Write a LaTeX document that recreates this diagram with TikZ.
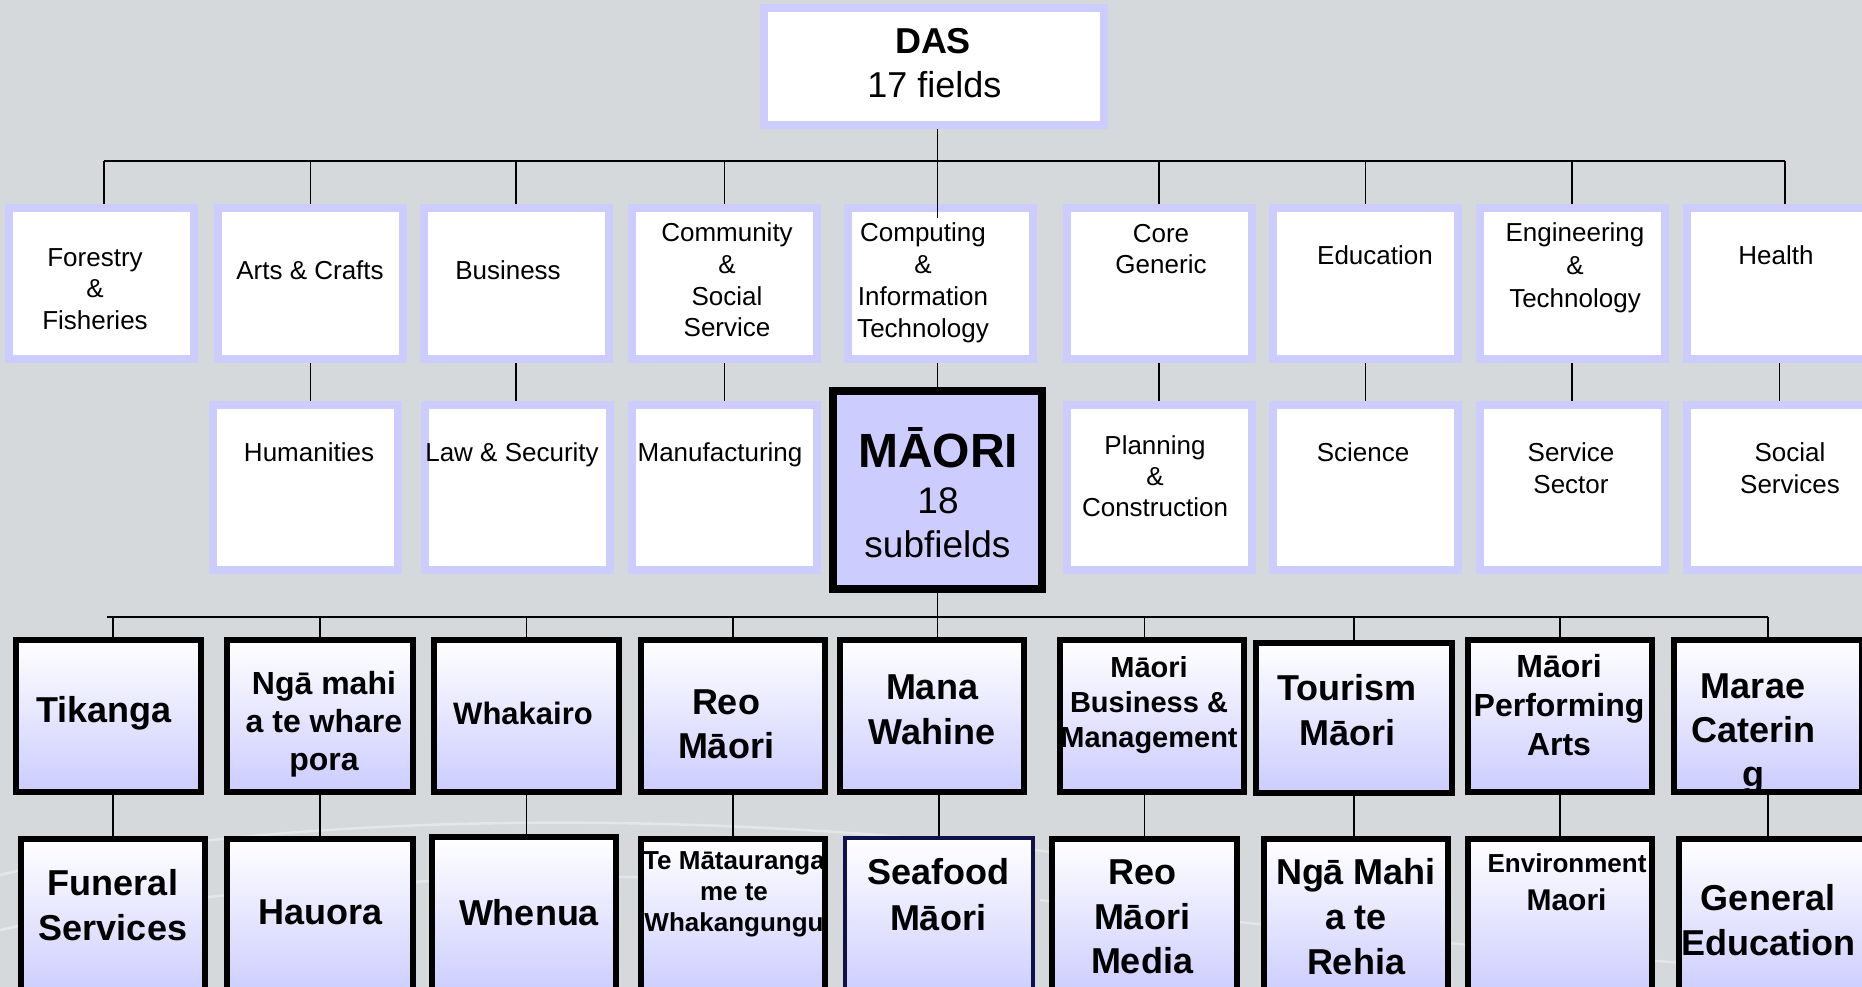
\documentclass[tikz,border=0pt]{standalone}
\usepackage{fontspec}
\setmainfont{Liberation Sans}
\usetikzlibrary{calc}
\definecolor{bg}{HTML}{D6D9DC}
\definecolor{lav}{HTML}{CCCCFF}
\definecolor{navyb}{HTML}{10104A}
\newcommand{\myfs}[2]{\fontsize{#1}{#2}\selectfont}
\begin{document}
\begin{tikzpicture}[x=1pt,y=-1pt,
  fieldbox/.style={draw=lav,line width=8pt,fill=white,inner sep=0pt,minimum width=185pt,minimum height=151pt},
  fieldboxb/.style={fieldbox,minimum height=165pt},
  subbox/.style={draw=black,line width=6pt,top color=white,bottom color=lav,inner sep=0pt,minimum height=152pt},
  subboxb/.style={subbox,minimum height=158pt},
  conn/.style={draw=black,line width=1.4pt},
  ftxt/.style={align=center,inner sep=0pt,yshift=-2pt,font=\myfs{26}{31.7}},
  btxt/.style={align=center,inner sep=0pt,yshift=-2.5pt,font=\bfseries\myfs{36}{45}},
  swoosh/.style={draw=white,opacity=0.35,line width=2.5pt}
]
\useasboundingbox (0,0) rectangle (1862,987);
\clip (0,0) rectangle (1862,987);
\fill[bg] (0,0) rectangle (1862,987);
% faint background swooshes
\draw[swoosh] (0,875) .. controls (250,815) and (700,800) .. (1150,865);
\draw[swoosh] (0,930) .. controls (200,885) and (500,870) .. (820,880);
\draw[swoosh] (1040,900) .. controls (1300,930) and (1600,960) .. (1862,975);

% DAS
\node[draw=lav,line width=8pt,fill=white,inner sep=0pt,minimum width=340pt,minimum height=117pt] (das) at (934,66.5) {};
\node[anchor=base,inner sep=0pt,font=\bfseries\myfs{36}{44}] (td1) at (933,54) {DAS};
\node[anchor=base,inner sep=0pt,font=\myfs{36}{44}] (td2) at (934.5,98) {17 fields};

% fields row 1
\node[fieldbox] (f1) at (101,283.5) {};
\node[fieldbox] (f2) at (310.5,283.5) {};
\node[fieldbox] (f3) at (516,283.5) {};
\node[fieldbox] (f4) at (724.5,283.5) {};
\node[fieldbox] (f5) at (940,283.5) {};
\node[fieldbox] (f6) at (1159,283.5) {};
\node[fieldbox] (f7) at (1365.5,283.5) {};
\node[fieldbox] (f8) at (1572,283.5) {};
\node[fieldbox] (f9) at (1779.5,283.5) {};

\node[ftxt] (tf1) at (95,287) {Forestry\\\&\\Fisheries};
\node[ftxt] (tf2) at (310,268.5) {Arts \& Crafts};
\node[ftxt] (tf3) at (508,268.5) {Business};
\node[ftxt] (tf4) at (727,278) {Community\\\&\\Social\\Service};
\node[ftxt] (tf5) at (923,280.8) {Computing\\\&\\Information\\Technology};
\node[ftxt] (tf6) at (1161,247) {Core\\Generic};
\node[ftxt] (tf7) at (1375,253.5) {Education};
\node[ftxt,font=\myfs{26}{33}] (tf8) at (1575,266) {Engineering\\\&\\Technology};
\node[ftxt] (tf9) at (1776,253.5) {Health};

% fields row 2
\node[fieldboxb] (g2) at (305,487.5) {};
\node[fieldboxb] (g3) at (517,487.5) {};
\node[fieldboxb] (g4) at (724.5,487.5) {};
\node[fieldboxb] (g6) at (1159,487.5) {};
\node[fieldboxb] (g7) at (1365.5,487.5) {};
\node[fieldboxb] (g8) at (1572,487.5) {};
\node[fieldboxb] (g9) at (1779.5,487.5) {};

\node[ftxt] (tg2) at (309,450.5) {Humanities};
\node[ftxt] (tg3) at (512,453) {Law \& Security};
\node[ftxt] (tg4) at (720,453) {Manufacturing};
\node[ftxt,font=\myfs{26}{31}] (tg6) at (1155,474.5) {Planning\\\&\\Construction};
\node[ftxt] (tg7) at (1363,450.5) {Science};
\node[ftxt] (tg8) at (1571,466.5) {Service\\Sector};
\node[ftxt] (tg9) at (1790,466.5) {Social\\Services};

% MAORI
\node[draw=black,line width=8pt,fill=lav,inner sep=0pt,minimum width=209pt,minimum height=198pt] (mb) at (937.5,490) {};
\node[anchor=base,inner sep=0pt,font=\bfseries\myfs{48}{50}] (tm1) at (938,467) {MĀORI};
\node[anchor=base,inner sep=0pt,font=\myfs{37}{45}] (tm2) at (938,513) {18};
\node[anchor=base,inner sep=0pt,font=\myfs{37}{45}] (tm3) at (937.5,557) {subfields};

% subfields row 3
\node[subbox,minimum width=185pt] (t1) at (108.5,716) {};
\node[subbox,minimum width=186pt] (t2) at (320,716) {};
\node[subbox,minimum width=185pt] (t3) at (526.5,716) {};
\node[subbox,minimum width=184pt] (t4) at (733,716) {};
\node[subbox,minimum width=184pt] (t5) at (932,716) {};
\node[subbox,minimum width=184pt] (t6) at (1152,716) {};
\node[subbox,minimum width=196pt,minimum height=150pt] (t7) at (1354,718) {};
\node[subbox,minimum width=184pt] (t8) at (1560,716) {};
\node[subbox,minimum width=188pt] (t9) at (1768,716) {};

\node[btxt] (tt1) at (104,710.7) {Tikanga};
\node[btxt,font=\bfseries\myfs{32}{38}] (tt2) at (324,721.7) {Ngā mahi\\a te whare\\pora};
\node[btxt,font=\bfseries\myfs{31}{38}] (tt3) at (523,710.7) {Whakairo};
\node[btxt,font=\bfseries\myfs{36}{44}] (tt4) at (726,722) {Reo\\Māori};
\node[btxt] (tt5) at (932,707.5) {Mana\\Wahine};
\node[btxt,font=\bfseries\myfs{29}{35}] (tt6) at (1149,702.5) {Māori\\Business \&\\Management};
\node[btxt] (tt7) at (1347,707.5) {Tourism\\Māori};
\node[btxt,font=\bfseries\myfs{32}{39}] (tt8) at (1559,702.3) {Māori\\Performing\\Arts};
\node[btxt,font=\bfseries\myfs{36}{44}] (tt9) at (1753,731.8) {Marae\\Caterin\\g};

% subfields row 4
\node[subboxb,minimum width=184pt] (u1) at (113,918) {};
\node[subboxb,minimum width=186pt] (u2) at (320,918) {};
\node[subboxb,minimum width=184pt] (u3) at (524,916) {};
\node[subboxb,minimum width=184pt] (u4) at (733,918) {};
\node[subboxb,draw=navyb,line width=4pt,minimum width=188pt,minimum height=160pt] (u5) at (939,918) {};
\node[subboxb,minimum width=185pt] (u6) at (1144.5,918) {};
\node[subboxb,minimum width=184pt] (u7) at (1356,918) {};
\node[subboxb,minimum width=184pt] (u8) at (1560,918) {};
\node[subboxb,minimum width=188pt] (u9) at (1773,918) {};

\node[btxt] (tu1) at (113,902.5) {Funeral\\Services};
\node[btxt] (tu2) at (321,910) {Hauora};
\node[btxt] (tu3) at (529,910) {Whenua};
\node[btxt,font=\bfseries\myfs{26}{31}] (tu4) at (734,892) {Te Mātauranga\\me te\\Whakangungu};
\node[btxt,font=\bfseries\myfs{36}{46}] (tu5) at (938,892.5) {Seafood\\Māori};
\node[btxt,font=\bfseries\myfs{36}{44.5}] (tu6) at (1142,914.5) {Reo\\Māori\\Media};
\node[btxt] (tu7) at (1356,914) {Ngā Mahi\\a te\\Rehia};
\node[anchor=base,inner sep=0pt,font=\bfseries\myfs{26}{31}] (tu8a) at (1567,872) {Environment};
\node[anchor=base,inner sep=0pt,font=\bfseries\myfs{30}{36}] (tu8b) at (1566.5,910) {Maori};
\node[btxt] (tu9) at (1768,917.5) {General\\Education};

% connectors
\coordinate (bus1L) at (104,161);
\coordinate (bus1R) at (1785,161);
\coordinate (bus2L) at (107,617);
\coordinate (bus2R) at (1768,617);
\coordinate (cin) at ($(f5.north)+(0,14)$);

\draw[conn] (bus1L) -- (bus1R);
\draw[conn] (das.south -| mb.north) -- (cin -| mb.north);
\draw[conn] (bus1L) -- (bus1L |- f1.north);
\foreach \n in {f2,f3,f4,f6,f7,f8} \draw[conn] (\n.north |- bus1L) -- (\n.north);
\draw[conn] (bus1R) -- (bus1R |- f9.north);

\draw[conn] (f2.south) -- (f2.south |- g2.north);
\draw[conn] (f3.south) -- (f3.south |- g3.north);
\draw[conn] (f4.south) -- (f4.south |- g4.north);
\draw[conn] (f5.south -| mb.north) -- (mb.north);
\draw[conn] (f6.south) -- (f6.south |- g6.north);
\draw[conn] (f7.south) -- (f7.south |- g7.north);
\draw[conn] (f8.south) -- (f8.south |- g8.north);
\draw[conn] (f9.south) -- (f9.south |- g9.north);

\draw[conn] (bus2L) -- (bus2R);
\draw[conn] (mb.south) -- (mb.south |- t5.north);
\draw[conn] (u1.north |- bus2L) -- (u1.north |- t1.north);
\foreach \n in {t2,t3,t4,t7,t8} \draw[conn] (\n.north |- bus2L) -- (\n.north);
\draw[conn] (u6.north |- bus2L) -- (u6.north |- t6.north);
\draw[conn] (bus2R) -- (bus2R |- t9.north);

\draw[conn] (u1.north |- t1.south) -- (u1.north);
\draw[conn] (t2.south) -- (t2.south |- u2.north);
\draw[conn] (t3.south) -- (t3.south |- u3.north);
\draw[conn] (t4.south) -- (t4.south |- u4.north);
\draw[conn] (u5.north |- t5.south) -- (u5.north);
\draw[conn] (u6.north |- t6.south) -- (u6.north);
\draw[conn] (t7.south) -- (t7.south |- u7.north);
\draw[conn] (t8.south) -- (t8.south |- u8.north);
\draw[conn] (bus2R |- t9.south) -- (bus2R |- u9.north);
\end{tikzpicture}
\end{document}
